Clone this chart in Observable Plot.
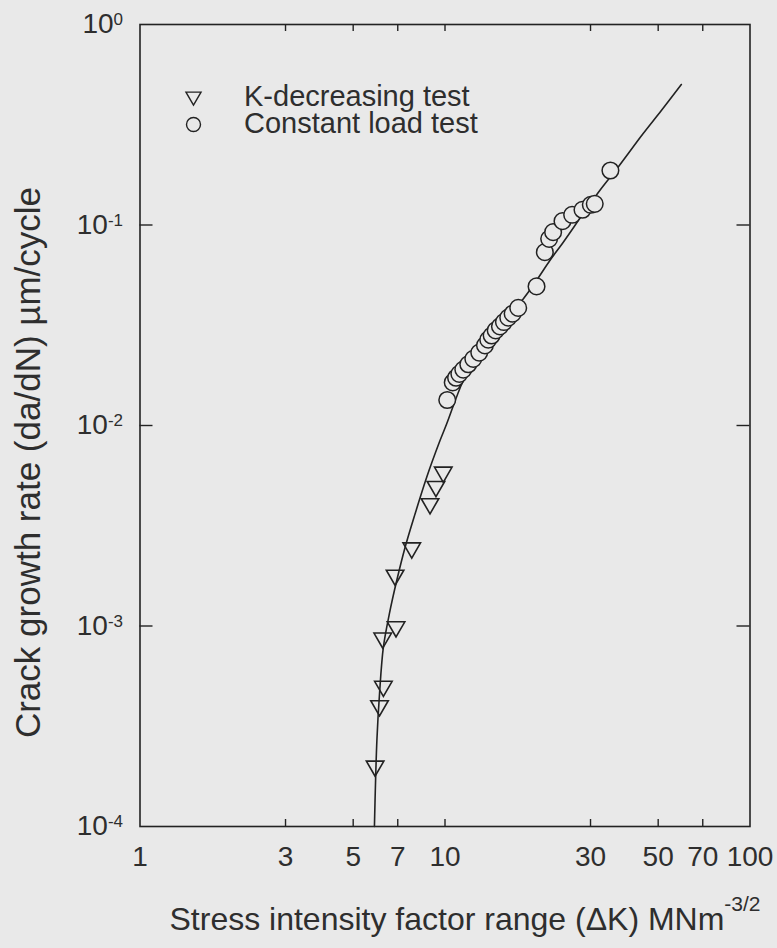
<!DOCTYPE html>
<html>
<head>
<meta charset="utf-8">
<script src="https://cdn.jsdelivr.net/npm/d3@7"></script>
<script src="https://cdn.jsdelivr.net/npm/@observablehq/plot@0.6"></script>
<style>
  html, body { margin: 0; padding: 0; background: #e9e9e9; }
  svg { display: block; }
</style>
</head>
<body>
<div id="chart"></div>
<script>
// K-decreasing test: stress intensity factor range ΔK (MNm^-3/2) and da/dN (µm/cycle)
const kdecDK   = [5.90, 6.10, 6.28, 6.25, 6.91, 6.86, 7.78, 8.93, 9.34, 9.87];
const kdecRate = [2.0e-4, 4.0e-4, 5.0e-4, 8.7e-4, 9.9e-4, 1.79e-3, 2.45e-3, 4.07e-3, 4.96e-3, 5.85e-3];

// Constant load test
const constDK   = [10.17, 10.60, 10.87, 11.14, 11.48, 11.92, 12.38, 12.95, 13.52, 13.86,
                   14.22, 14.66, 15.14, 15.60, 16.12, 16.66, 17.38, 19.96, 21.25, 21.95,
                   22.62, 24.28, 26.11, 28.23, 30.06, 30.97, 34.86];
const constRate = [0.0134, 0.0164, 0.0173, 0.0181, 0.0190, 0.0202, 0.0215, 0.0231, 0.0251, 0.0268,
                   0.0281, 0.0298, 0.0312, 0.0328, 0.0345, 0.0361, 0.0386, 0.0494, 0.0732, 0.0853,
                   0.0921, 0.1045, 0.1124, 0.1191, 0.1261, 0.1275, 0.187];

// Fitted growth-rate curve
const fitDK   = [5.87, 5.98, 6.10, 6.28, 6.57, 6.95, 7.40, 7.98, 8.71, 9.63, 10.13, 11.48,
                 13.35, 15.52, 18.05, 19.96, 22.07, 24.39, 28.36, 32.17, 36.93, 44.58, 51.21, 59.54];
const fitRate = [1.0e-4, 2.69e-4, 4.59e-4, 7.84e-4, 1.15e-3, 1.69e-3, 2.47e-3, 3.63e-3, 5.52e-3,
                 8.41e-3, 0.0102, 0.01677, 0.02555, 0.0334, 0.0428, 0.0529, 0.0665, 0.0818,
                 0.1137, 0.1486, 0.1942, 0.285, 0.3725, 0.502];

// Axis ticks and labels
const xTicks = [1, 3, 5, 7, 10, 30, 50, 70, 100];
const xTickMarks = [3, 5, 7, 10, 30, 50, 70];
const yTicks = [1e-4, 1e-3, 1e-2, 1e-1, 1];
const yTickMarks = [1e-3, 1e-2, 1e-1];
const legendLabels = ["K-decreasing test", "Constant load test"];
const xTitle = "Stress intensity factor range (\u0394K) MNm";
const xTitleSup = "-3/2";
const yTitle = "Crack growth rate (da/dN) \u00b5m/cycle";

const kdec = kdecDK.map((x, i) => ({x, y: kdecRate[i]}));
const cload = constDK.map((x, i) => ({x, y: constRate[i]}));
const fit = fitDK.map((x, i) => ({x, y: fitRate[i]}));

const W = 777, H = 948;
const mL = 139.5, mR = 27.5, mT = 24, mB = 122;
const innerW = W - mL - mR, innerH = H - mT - mB;
const ink = "#222222";
const textInk = "#2e2e2e";
const paper = "#e9e9e9";

const chart = Plot.plot({
  width: W,
  height: H,
  marginLeft: mL,
  marginRight: mR,
  marginTop: mT,
  marginBottom: mB,
  style: {background: paper, fontFamily: "'Liberation Sans', Arial, Helvetica, sans-serif", color: textInk},
  x: {type: "log", domain: [1, 100], axis: null},
  y: {type: "log", domain: [1e-4, 1], axis: null},
  marks: [
    Plot.frame({stroke: ink, strokeWidth: 1.6}),
    // inward tick marks on all four sides
    Plot.tickX(xTickMarks, {x: d => d, insetTop: innerH - 7, stroke: ink, strokeWidth: 1.4}),
    Plot.tickX(xTickMarks, {x: d => d, insetBottom: innerH - 7, stroke: ink, strokeWidth: 1.4}),
    Plot.tickY(yTickMarks, {y: d => d, insetRight: innerW - 13, stroke: ink, strokeWidth: 1.4}),
    Plot.tickY(yTickMarks, {y: d => d, insetLeft: innerW - 13, stroke: ink, strokeWidth: 1.4}),
    // x tick labels
    Plot.text(xTicks, {x: d => d, frameAnchor: "bottom", text: d => String(d), dy: 31, lineAnchor: "middle", textAnchor: "middle", fontSize: 28, fill: textInk}),
    // y tick labels as "10^e"; the exponent becomes a superscript below
    Plot.text(yTicks, {y: d => d, frameAnchor: "left", text: d => "10^" + Math.round(Math.log10(d)), dx: -17, lineAnchor: "middle", textAnchor: "end", fontSize: 28, fill: textInk}),
    // fitted curve
    Plot.line(fit, {x: "x", y: "y", curve: "catmull-rom", stroke: ink, strokeWidth: 1.6}),
    // data
    Plot.dot(kdec, {x: "x", y: "y", symbol: "triangle", rotate: 180, r: 6.5, stroke: ink, fill: "none", strokeWidth: 1.6}),
    Plot.dot(cload, {x: "x", y: "y", symbol: "circle", r: 8.3, stroke: ink, fill: paper, strokeWidth: 1.5}),
    // legend
    Plot.dot([legendLabels[0]], {frameAnchor: "top-left", dx: 53.5, dy: 72, symbol: "triangle", rotate: 180, r: 5.6, stroke: ink, fill: "none", strokeWidth: 1.4}),
    Plot.dot([legendLabels[1]], {frameAnchor: "top-left", dx: 53.5, dy: 100, symbol: "circle", r: 7, stroke: ink, fill: "none", strokeWidth: 1.4}),
    Plot.text([legendLabels[0]], {frameAnchor: "top-left", text: d => d, dx: 104, dy: 72, textAnchor: "start", lineAnchor: "middle", fontSize: 29, fill: textInk}),
    Plot.text([legendLabels[1]], {frameAnchor: "top-left", text: d => d, dx: 104, dy: 99, textAnchor: "start", lineAnchor: "middle", fontSize: 29, fill: textInk}),
    // axis titles
    Plot.text([xTitle], {frameAnchor: "bottom", text: d => d, dx: 20, dy: 93, textAnchor: "middle", lineAnchor: "middle", fontSize: 32, fill: textInk}),
    Plot.text([yTitle], {frameAnchor: "left", text: d => d, dx: -111, dy: 37, rotate: -90, textAnchor: "middle", lineAnchor: "middle", fontSize: 35, fill: textInk})
  ]
});

// superscript exponents: powers of ten on the y axis, unit exponent on the x title
d3.select(chart).selectAll("text").each(function () {
  const t = d3.select(this);
  const s = this.textContent;
  if (s === xTitle) {
    t.append("tspan").attr("font-size", 21).attr("dy", -19).text(xTitleSup);
  } else if (s.startsWith("10^")) {
    const [base, exp] = s.split("^");
    t.text(base);
    t.append("tspan").attr("font-size", 17).attr("dy", -8).text(exp);
  }
});

document.getElementById("chart").appendChild(chart);
</script>
</body>
</html>
